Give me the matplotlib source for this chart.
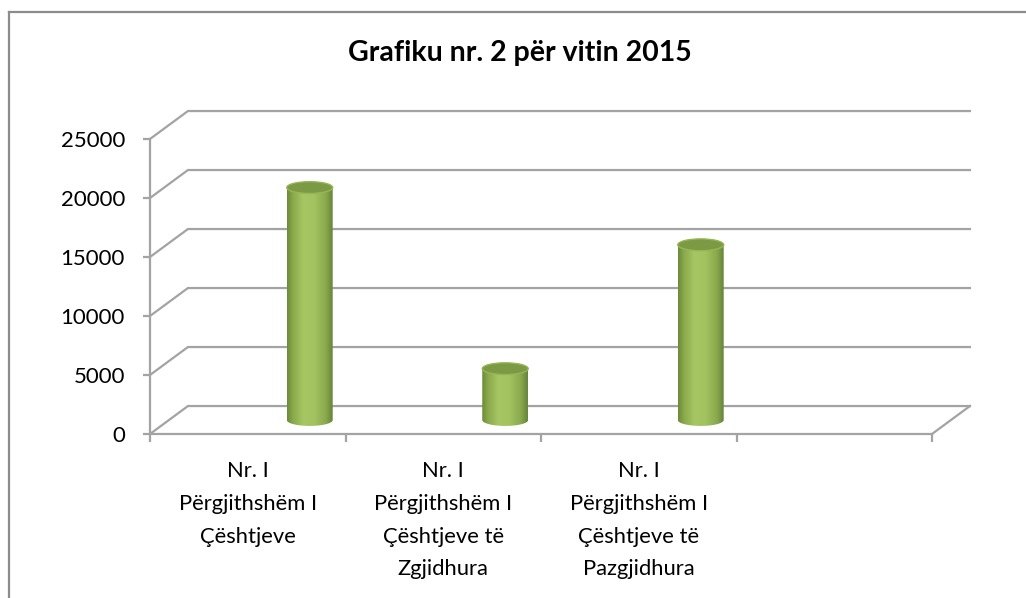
import numpy as np
import matplotlib
matplotlib.use("Agg")
import matplotlib.pyplot as plt
from matplotlib.colors import LinearSegmentedColormap
from matplotlib.patches import Ellipse, Polygon
from matplotlib.lines import Line2D

plt.rcParams["font.family"] = ["Lato", "DejaVu Sans"]

# data
categories = [
    "Nr. I\nPërgjithshëm I\nÇështjeve",
    "Nr. I\nPërgjithshëm I\nÇështjeve të\nZgjidhura",
    "Nr. I\nPërgjithshëm I\nÇështjeve të\nPazgjidhura",
    "",
]
values = [19700, 4350, 14850]
y_ticks = [0, 5000, 10000, 15000, 20000, 25000]
title = "Grafiku nr. 2 për vitin 2015"

GRID = "#a3a3a3"
DEPTH_X = 0.194   # depth of the box in category units
DEPTH_Y = 2370    # depth of the box in value units
CYL_W = 0.235
CYL_EH = 1000

cyl_cmap = LinearSegmentedColormap.from_list(
    "cyl",
    [(0.0, "#6c893a"), (0.12, "#88a84b"), (0.35, "#a5c662"),
     (0.6, "#a2c35f"), (0.85, "#89a94c"), (1.0, "#66833a")],
)

fig = plt.figure(figsize=(10.26, 5.98), dpi=100)
fig.patch.set_facecolor("white")

W, H = 1026, 598
ax = fig.add_axes([150 / W, (H - 434) / H, 782 / W, 295 / H])
ax.set_xlim(0, len(categories))
ax.set_ylim(0, 25000)
ax.set_facecolor("none")

for s in ["top", "right"]:
    ax.spines[s].set_visible(False)
for s in ["left", "bottom"]:
    ax.spines[s].set_color(GRID)
    ax.spines[s].set_linewidth(1.6)

ax.set_yticks(y_ticks)
ax.set_yticklabels([str(v) for v in y_ticks])
ax.tick_params(axis="y", length=5, width=1.6, color=GRID, pad=13,
               labelsize=16, labelcolor="black")

ax.set_xticks(range(len(categories) + 1))
ax.set_xticklabels([])
ax.tick_params(axis="x", which="major", length=6, width=1.6, color=GRID)
ax.set_xticks([i + 0.5 for i in range(len(categories))], minor=True)
ax.set_xticklabels(categories, minor=True)
ax.tick_params(axis="x", which="minor", length=0, pad=19.5, labelsize=15.8)
for lab in ax.get_xticklabels(minor=True):
    lab.set_linespacing(1.8)

# back wall gridlines with their diagonals to the front axis
n_cat = len(categories)
for v in y_ticks:
    ax.plot([0, DEPTH_X, n_cat + DEPTH_X], [v, v + DEPTH_Y, v + DEPTH_Y],
            color=GRID, lw=1.6, clip_on=False, zorder=1,
            solid_joinstyle="miter")
# right edge of the floor
ax.plot([n_cat, n_cat + DEPTH_X], [0, DEPTH_Y], color=GRID, lw=1.6,
        clip_on=False, zorder=1)

# cylinders
grad = np.linspace(0, 1, 200).reshape(1, -1)
for i, v in enumerate(values):
    cx = i + 0.72 + DEPTH_X / 2
    base = DEPTH_Y / 2
    top = v + base
    a = CYL_W / 2
    b = CYL_EH / 2
    t = np.linspace(np.pi, 2 * np.pi, 40)
    pts = list(zip(cx + a * np.cos(t), base + b * np.sin(t)))
    pts += [(cx + a, top), (cx - a, top)]
    body = Polygon(pts, closed=True, transform=ax.transData)
    im = ax.imshow(grad, extent=[cx - a, cx + a, base - b, top],
                   aspect="auto", cmap=cyl_cmap, interpolation="bicubic",
                   zorder=3, origin="lower")
    im.set_clip_path(body)
    cap = Ellipse((cx, top), CYL_W, CYL_EH, facecolor="#7c9944",
                  edgecolor="#96b656", lw=1.0, zorder=4)
    ax.add_patch(cap)

ax.set_xlim(0, n_cat)
ax.set_ylim(0, 25000)

fig.text(520 / W, 1 - 53 / H, title, ha="center", va="center",
         fontsize=20.5, fontweight="bold")

# chart area border
fig.add_artist(Line2D([8.5 / W, 8.5 / W], [0, 1 - 11.5 / H],
                      transform=fig.transFigure, color="#8c8c8c", lw=1.6))
fig.add_artist(Line2D([8.5 / W, 1], [1 - 11.5 / H, 1 - 11.5 / H],
                      transform=fig.transFigure, color="#8c8c8c", lw=1.6))

fig.savefig("out.png", dpi=100)
